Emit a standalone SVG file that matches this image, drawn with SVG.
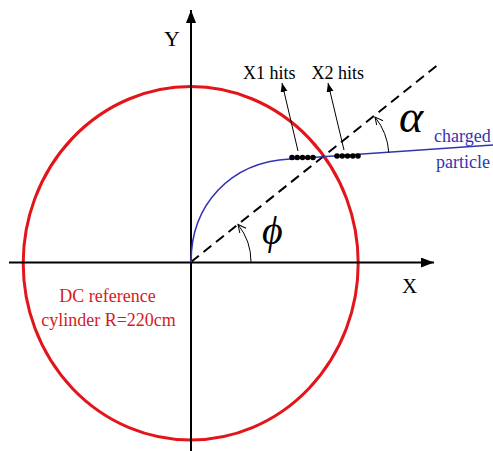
<svg xmlns="http://www.w3.org/2000/svg" width="493" height="451" viewBox="0 0 493 451">
<defs>
<style>
.ax{stroke:#000;stroke-width:2;fill:none}
text{font-family:"Liberation Serif","Times New Roman","DejaVu Serif",serif;fill:#000}
.red{fill:#d61a1f}
.blue{fill:#3434b0}
.thin{stroke:#000;stroke-width:1;fill:none}
.dot{fill:#000}
</style>
<marker id="axArrow" markerUnits="userSpaceOnUse" markerWidth="14" markerHeight="12" refX="13" refY="5" orient="auto">
<path d="M0,0 L13,5 L0,10 Z" fill="#000"/>
</marker>
<marker id="hitArrow" markerUnits="userSpaceOnUse" markerWidth="10" markerHeight="8" refX="9" refY="3.5" orient="auto">
<path d="M0,0 L9,3.5 L0,7 Z" fill="#000"/>
</marker>
<marker id="openArrow" markerUnits="userSpaceOnUse" markerWidth="10" markerHeight="10" refX="8" refY="4" orient="auto">
<path d="M0,0 L8,4 L0,8" fill="none" stroke="#000" stroke-width="1"/>
</marker>
</defs>
<rect width="493" height="451" fill="#fff"/>
<g id="cylinder">
<ellipse cx="190.7" cy="263.3" rx="167.5" ry="176.7" fill="none" stroke="#e3151a" stroke-width="3"/>
</g>
<g id="connectors">
<line class="ax" x1="9" y1="262.5" x2="434" y2="262.5" marker-end="url(#axArrow)"/>
<line class="ax" x1="191" y1="451" x2="191" y2="10" marker-end="url(#axArrow)"/>
<line x1="191" y1="262" x2="439" y2="64" stroke="#000" stroke-width="2" stroke-dasharray="10,6"/>
<path d="M191,262 C191,205 230,162 290,159 L493,145" fill="none" stroke="#3434b0" stroke-width="1.6"/>
<line class="thin" x1="298" y1="151" x2="282" y2="83" marker-end="url(#hitArrow)"/>
<line class="thin" x1="344" y1="150" x2="328" y2="83" marker-end="url(#hitArrow)"/>
<path class="thin" d="M251,262 A60,60 0 0 0 238,224.5" marker-end="url(#openArrow)"/>
<path class="thin" d="M388.8,152.5 A64,64 0 0 0 375,117" marker-end="url(#openArrow)"/>
</g>
<g id="hits">
<circle class="dot" cx="292" cy="157.5" r="2.8"/>
<circle class="dot" cx="297.2" cy="157.5" r="2.8"/>
<circle class="dot" cx="302.5" cy="157.5" r="2.8"/>
<circle class="dot" cx="307.8" cy="157.5" r="2.8"/>
<circle class="dot" cx="313" cy="157.5" r="2.8"/>
<circle class="dot" cx="337" cy="156" r="2.8"/>
<circle class="dot" cx="342.2" cy="156" r="2.8"/>
<circle class="dot" cx="347.5" cy="156" r="2.8"/>
<circle class="dot" cx="352.8" cy="156" r="2.8"/>
<circle class="dot" cx="358" cy="156" r="2.8"/>
</g>
<g id="labels" font-family="'Liberation Serif', 'Times New Roman', serif">
<text x="164" y="46" font-size="22">Y</text>
<text x="402" y="293" font-size="21">X</text>
<text x="243" y="79" font-size="18">X1 hits</text>
<text x="311.5" y="79" font-size="18">X2 hits</text>
<text x="399" y="132" font-size="46" font-style="italic">α</text>
<text x="262" y="244" font-size="40" font-style="italic">ϕ</text>
<text class="blue" x="434" y="142" font-size="18">charged</text>
<text class="blue" x="436" y="168" font-size="18">particle</text>
<text class="red" x="107.5" y="302" font-size="18" text-anchor="middle">DC reference</text>
<text class="red" x="108.5" y="326" font-size="18" text-anchor="middle">cylinder R=220cm</text>
</g>
</svg>
